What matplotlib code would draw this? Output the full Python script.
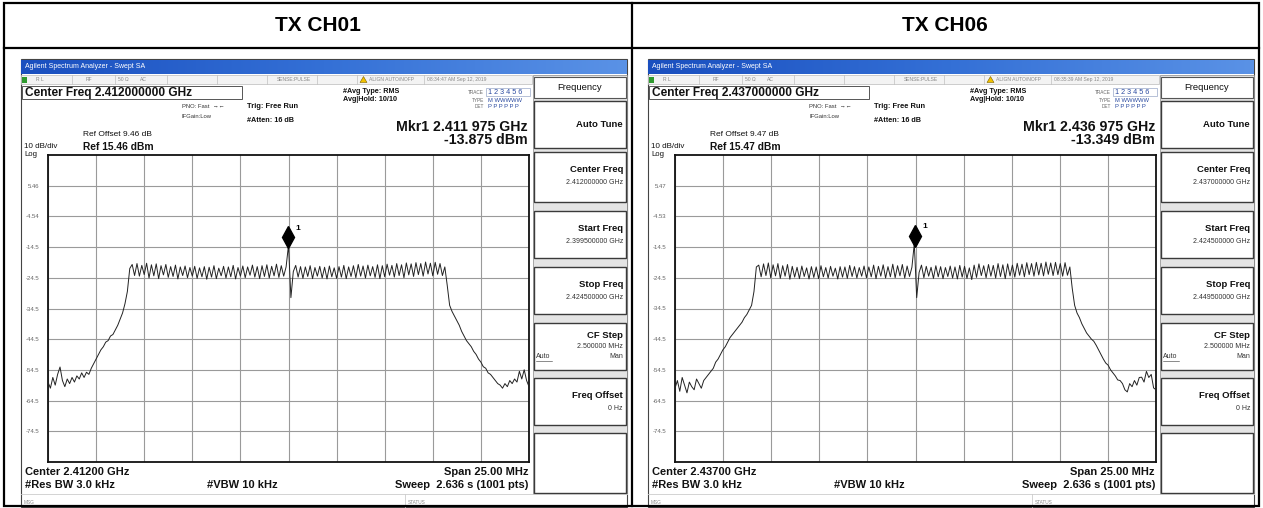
import matplotlib
matplotlib.use("Agg")
import matplotlib.pyplot as plt
import numpy as np
from matplotlib import transforms
from matplotlib.patches import Polygon, Rectangle

plt.rcParams["font.family"] = ["Liberation Sans", "DejaVu Sans"]

W, H = 1263, 508

# values
PANEL_TITLES = ["TX CH01", "TX CH06"]
CENTER_GHZ = [2.412, 2.437]
START_TXT = ["2.399500000 GHz", "2.424500000 GHz"]
STOP_TXT = ["2.424500000 GHz", "2.449500000 GHz"]
SPAN_MHZ = 25.0
REF_DBM = [15.46, 15.47]
REF_OFFSET_DB = [9.46, 9.47]
MARKER_GHZ = [2.411975, 2.436975]
MARKER_DBM = [-13.875, -13.349]
MARKER_TXT = ["2.411 975 GHz", "2.436 975 GHz"]
TIMESTAMPS = ["08:34:47 AM Sep 12, 2019", "08:35:39 AM Sep 12, 2019"]

# trace levels (dBm), 201 points across the 25 MHz span
CH01_DBM = [
    -58.5, -60.5, -57.0, -59.5, -56.0, -53.6, -58.0, -60.0, -57.5, -59.0,
    -57.0, -58.5, -56.5, -57.5, -55.5, -57.0, -55.3,
    -56.0, -54.0, -52.5, -51.0, -49.5, -48.0, -47.0, -45.5, -45.0, -43.5,
    -43.0, -41.5, -40.0, -38.0, -36.0, -33.0, -29.0, -21.5,
    -20.2, -23.8, -19.9, -24.0, -20.5, -23.5, -19.8, -24.6, -20.3, -23.9,
    -20.0, -24.8, -20.6, -23.6, -20.2, -24.4, -20.9, -24.1, -20.4, -24.9,
    -21.0, -23.8, -20.7, -24.5, -21.2, -24.0, -20.8, -24.7, -21.3, -24.2,
    -20.9, -25.0, -21.1, -24.3, -20.6, -24.8, -21.4, -23.9, -20.8, -24.6,
    -21.0, -24.2, -20.5, -24.9, -21.2, -24.0, -20.7, -24.5, -21.0, -23.7,
    -20.4, -24.3, -20.9, -24.8, -20.6, -24.1, -20.3, -24.6, -20.8, -23.9,
    -20.1, -24.4, -20.6, -24.0, -21.0,
    -13.88, -31.0,
    -22.5, -20.5, -24.3, -20.9, -24.7, -21.0, -24.1, -20.6, -24.8, -21.2,
    -24.0, -20.8, -24.6, -21.1, -24.9, -20.7, -24.2, -21.3, -24.7, -20.9,
    -24.3, -20.5, -24.8, -21.0, -24.1, -20.6, -24.5, -20.2, -24.0, -20.7,
    -24.6, -20.4, -23.9, -20.9, -24.4, -20.3, -24.8, -20.6, -24.2, -20.1,
    -23.7, -20.5, -24.3, -19.9, -23.8, -20.3, -24.5, -19.7, -23.6, -20.0,
    -24.1, -19.6, -23.5, -19.9, -24.0, -19.4, -23.3, -19.8, -23.9, -19.5,
    -23.4, -19.9, -23.8,
    -21.0, -27.0, -33.5, -35.5, -37.0, -38.5, -40.0, -42.0, -43.5, -45.0,
    -46.0, -47.0, -48.5, -49.5, -51.0, -52.0, -53.5, -54.0, -55.5, -56.0,
    -57.0, -58.0, -59.0, -59.5, -60.5, -59.0, -60.0, -58.0, -59.0, -57.5,
    -58.5, -55.0, -57.5, -54.5, -58.0, -60.0,
]

CH06_DBM = [
    -60.5, -58.0, -61.5, -57.0, -59.5, -62.0, -58.5, -60.0, -61.0, -57.5,
    -59.0, -60.5, -58.0, -57.0,
    -56.0, -55.0, -54.0, -52.0, -51.0, -49.5, -48.0, -47.0, -45.5, -44.0,
    -43.0, -42.0, -41.0, -40.0, -39.0, -37.5, -36.5, -35.0, -33.5, -29.0,
    -21.0,
    -20.4, -24.2, -20.0, -23.8, -19.7, -24.5, -20.3, -23.9, -19.9, -24.7,
    -20.6, -24.0, -20.2, -25.0, -20.8, -24.3, -21.1, -24.8, -20.7, -24.1,
    -21.3, -24.9, -20.9, -24.4, -21.0, -24.8, -20.6, -24.2, -21.2, -24.6,
    -20.8, -24.0, -21.4, -24.9, -20.9, -24.3, -21.0, -24.7, -20.5, -24.1,
    -20.9, -24.6, -21.2, -24.0, -20.7, -24.5, -21.0, -24.2, -20.4, -24.8,
    -20.8, -24.0, -20.3, -24.6, -20.9, -24.2, -20.1, -24.5, -20.6, -23.9,
    -20.2, -24.6, -20.7, -24.1, -21.1,
    -13.35, -31.0,
    -22.8, -20.4, -24.5, -20.8, -24.0, -21.1, -24.7, -20.6, -24.2, -20.9,
    -24.8, -21.2, -24.1, -20.7, -24.6, -21.0, -24.9, -20.5, -24.3, -20.8,
    -24.7, -21.3, -25.1, -20.4, -24.4, -20.0, -23.8, -20.6, -24.5, -20.2,
    -24.0, -20.5, -24.6, -19.9, -24.1, -20.3, -24.8, -20.0, -23.9, -20.4,
    -24.3, -19.8, -23.7, -20.1, -24.2, -19.6, -23.5, -19.9, -24.0, -19.5,
    -23.6, -19.8, -23.9, -19.4, -23.4, -19.7, -23.8, -19.5, -23.5, -19.9,
    -24.0, -19.6, -23.7,
    -21.0, -28.0, -33.5, -36.0, -37.5, -39.5, -41.0, -42.5, -43.5, -44.5,
    -45.2, -46.5, -48.0, -49.5, -51.0, -52.3, -53.0, -54.5, -55.5, -56.5,
    -57.8, -58.0, -59.0, -61.0, -61.7, -59.0, -60.0, -58.0, -59.5, -57.0,
    -56.9, -58.5, -55.0, -57.0, -56.0, -60.4, -61.0,
]
TRACES = [CH01_DBM, CH06_DBM]

PANEL_DX = [0, 627]


def fig_rect(x0, y0, x1, y1):
    return [x0 / W, 1 - y1 / H, (x1 - x0) / W, (y1 - y0) / H]


def box(ax, x0, y0, x1, y1, fc="white", ec="#333333", lw=0.8, z=1):
    ax.add_patch(Rectangle((x0, y0), x1 - x0, y1 - y0, fc=fc, ec=ec, lw=lw, zorder=z))


def txt(ax, x, y, s, size, ha="left", bold=False, color="#111111", z=5):
    ax.text(x, y, s, fontsize=size, ha=ha, va="center", color=color,
            fontweight="bold" if bold else "normal", zorder=z)


def draw_screen(fig, ax0, k):
    dx = PANEL_DX[k]
    cf = CENTER_GHZ[k]
    ref = REF_DBM[k]

    # screenshot frame
    box(ax0, 21 + dx, 59, 627 + dx, 507, fc="white", ec="#444444", lw=0.8, z=0.5)

    # window title bar
    grad = np.linspace(0, 1, 256).reshape(1, -1)
    bar_cmap = matplotlib.colors.LinearSegmentedColormap.from_list(
        "bar", ["#1a4fbf", "#3470d6", "#5a92e6"])
    ax0.imshow(grad, extent=(21 + dx, 627 + dx, 74, 60), cmap=bar_cmap, aspect="auto", zorder=1)
    txt(ax0, 25 + dx, 67, "Agilent Spectrum Analyzer - Swept SA", 5, color="white")

    # status row
    box(ax0, 21 + dx, 75, 532 + dx, 84, fc="#f3f3f3", ec="#bbbbbb", lw=0.5)
    ax0.add_patch(Rectangle((22 + dx, 76.5), 5, 6, fc="#2f9a2f", ec="none", zorder=2))
    for sx in [72, 115, 167, 217, 267, 317, 357, 424]:
        ax0.plot([sx + dx, sx + dx], [75, 84], color="#c0c0c0", lw=0.5, zorder=2)
    for sx, s in [(36, "R L"), (86, "RF"), (118, "50 \u03a9"), (140, "AC"), (277, "SENSE:PULSE"),
                  (369, "ALIGN AUTO/NOFP"), (427, TIMESTAMPS[k])]:
        txt(ax0, sx + dx, 79.5, s, 3.6, color="#888888")
    ax0.add_patch(Polygon([[360 + dx, 82.5], [367 + dx, 82.5], [363.5 + dx, 76.5]], closed=True,
                          fc="#f2c200", ec="#7a6000", lw=0.4, zorder=3))

    # settings area
    box(ax0, 22 + dx, 86, 242 + dx, 99, fc="white", ec="#555555", lw=0.7)
    txt(ax0, 25 + dx, 92.8, f"Center Freq {cf:.9f} GHz", 8.6, bold=True)
    txt(ax0, 182 + dx, 106.5, "PNO: Fast  \u2192\u2190", 4.2, color="#333333")
    txt(ax0, 182 + dx, 116, "IFGain:Low", 4.2, color="#333333")
    txt(ax0, 247 + dx, 107, "Trig: Free Run", 5.4, bold=True)
    txt(ax0, 247 + dx, 120, "#Atten: 16 dB", 5.2, bold=True)
    txt(ax0, 343 + dx, 91.5, "#Avg Type: RMS", 5.2, bold=True)
    txt(ax0, 343 + dx, 99.5, "Avg|Hold: 10/10", 5.2, bold=True)
    txt(ax0, 484 + dx, 92, "TRACE", 3.4, ha="right", color="#666666")
    txt(ax0, 484 + dx, 100, "TYPE", 3.4, ha="right", color="#666666")
    txt(ax0, 484 + dx, 107, "DET", 3.4, ha="right", color="#666666")
    box(ax0, 486 + dx, 88, 530 + dx, 96, fc="white", ec="#9aa8c8", lw=0.5)
    txt(ax0, 488 + dx, 92, "1 2 3 4 5 6", 5.2, color="#2a4aa0")
    txt(ax0, 488 + dx, 100, "M WWWWW", 4.2, color="#2a4aa0")
    txt(ax0, 488 + dx, 107, "P P P P P P", 4.2, color="#2a4aa0")
    txt(ax0, 528 + dx, 127, f"Mkr1 {MARKER_TXT[k]}", 10.2, ha="right", bold=True)
    txt(ax0, 528 + dx, 140, f"{MARKER_DBM[k]:.3f} dBm", 10.2, ha="right", bold=True)
    txt(ax0, 83 + dx, 135, f"Ref Offset {REF_OFFSET_DB[k]:.2f} dB", 6.0)
    txt(ax0, 83 + dx, 146.5, f"Ref {ref:.2f} dBm", 7.4, bold=True)
    txt(ax0, 24 + dx, 146.5, "10 dB/div", 5.8)
    txt(ax0, 24 + dx, 154, "Log", 5.6)

    # bottom annotations
    txt(ax0, 25 + dx, 472, f"Center {cf:.5f} GHz", 8.0, bold=True)
    txt(ax0, 25 + dx, 485, "#Res BW 3.0 kHz", 8.0, bold=True)
    txt(ax0, 207 + dx, 485, "#VBW 10 kHz", 8.0, bold=True)
    txt(ax0, 528 + dx, 472, f"Span {SPAN_MHZ:.2f} MHz", 8.0, ha="right", bold=True)
    txt(ax0, 528 + dx, 485, "Sweep  2.636 s (1001 pts)", 8.0, ha="right", bold=True)
    ax0.plot([21 + dx, 627 + dx], [494, 494], color="#cccccc", lw=0.6, zorder=2)
    ax0.plot([405 + dx, 405 + dx], [494, 507], color="#cccccc", lw=0.6, zorder=2)
    txt(ax0, 24 + dx, 502, "MSG", 3.4, color="#888888")
    txt(ax0, 408 + dx, 502, "STATUS", 3.4, color="#888888")

    # soft keys
    box(ax0, 533 + dx, 75, 627 + dx, 494, fc="#e4e4e4", ec="#888888", lw=0.5)
    box(ax0, 534 + dx, 77, 626 + dx, 98, ec="#555555", lw=0.8)
    txt(ax0, 580 + dx, 87.5, "Frequency", 6.8, ha="center")
    keys = [
        (101, 148, "Auto Tune", None),
        (152, 202, "Center Freq", f"{cf:.9f} GHz"),
        (211, 258, "Start Freq", START_TXT[k]),
        (267, 314, "Stop Freq", STOP_TXT[k]),
        (323, 370, "CF Step", "2.500000 MHz"),
        (378, 425, "Freq Offset", "0 Hz"),
        (433, 493, None, None),
    ]
    for top, bot, name, val in keys:
        box(ax0, 534 + dx, top, 626 + dx, bot, ec="#3a3a3a", lw=1.0)
        if name is None:
            continue
        if val is None:
            txt(ax0, 623 + dx, (top + bot) / 2, name, 6.8, ha="right", bold=True)
            continue
        if name == "CF Step":
            txt(ax0, 623 + dx, top + 12, name, 6.8, ha="right", bold=True)
            txt(ax0, 623 + dx, top + 23.5, val, 5.0, ha="right", color="#333333")
            txt(ax0, 536 + dx, top + 34, "Auto", 5.0, color="#333333")
            txt(ax0, 623 + dx, top + 34, "Man", 5.0, ha="right", color="#333333")
            ax0.plot([536 + dx, 552 + dx], [top + 37.5, top + 37.5], color="#333333", lw=0.4, zorder=5)
        else:
            txt(ax0, 623 + dx, top + 17.5, name, 6.8, ha="right", bold=True)
            txt(ax0, 623 + dx, top + 30.5, val, 5.0, ha="right", color="#333333")

    # spectrum graticule
    ax = fig.add_axes(fig_rect(48 + dx, 155, 529 + dx, 462))
    f0 = cf - SPAN_MHZ / 2000
    f1 = cf + SPAN_MHZ / 2000
    freq = np.linspace(f0, f1, len(TRACES[k]))
    ax.plot(freq, TRACES[k], color="#222222", lw=0.7, zorder=3)
    ax.set_xlim(f0, f1)
    ax.set_ylim(ref - 100, ref)
    ax.set_xticks(np.linspace(f0, f1, 11))
    ax.set_xticklabels([])
    yt = [ref - 10 * i for i in range(1, 10)]
    ax.set_yticks(yt)
    ax.set_yticklabels([f"{v:.3g}" for v in yt])
    ax.tick_params(length=0, pad=6, labelsize=4.3, labelcolor="#666666")
    ax.grid(True, color="#9a9a9a", lw=0.8)
    for sp in ax.spines.values():
        sp.set_color("#111111")
        sp.set_linewidth(1.3)

    # marker 1
    mk = transforms.offset_copy(ax.transData, fig=fig, y=5.5, units="points")
    ax.plot([MARKER_GHZ[k]], [MARKER_DBM[k]], marker="d", ms=11, color="black",
            transform=mk, zorder=4, clip_on=False)
    ax.annotate("1", (MARKER_GHZ[k], MARKER_DBM[k]), xytext=(5, 12), textcoords="offset points",
                fontsize=6, fontweight="bold", ha="left", va="center")


def main():
    fig = plt.figure(figsize=(W / 100, H / 100), dpi=100)
    ax0 = fig.add_axes([0, 0, 1, 1])
    ax0.set_xlim(0, W)
    ax0.set_ylim(H, 0)
    ax0.axis("off")

    # outer table
    ax0.add_patch(Rectangle((4, 3), 1255, 503, fc="none", ec="black", lw=1.6, zorder=10))
    ax0.plot([4, 1259], [48, 48], color="black", lw=1.6, zorder=10)
    ax0.plot([632, 632], [3, 506], color="black", lw=1.6, zorder=10)
    for k, title in enumerate(PANEL_TITLES):
        ax0.text(318 + PANEL_DX[k], 25.5, title, fontsize=15, fontweight="bold",
                 ha="center", va="center")
        draw_screen(fig, ax0, k)

    fig.savefig("out.png", dpi=100)


if __name__ == "__main__":
    main()
